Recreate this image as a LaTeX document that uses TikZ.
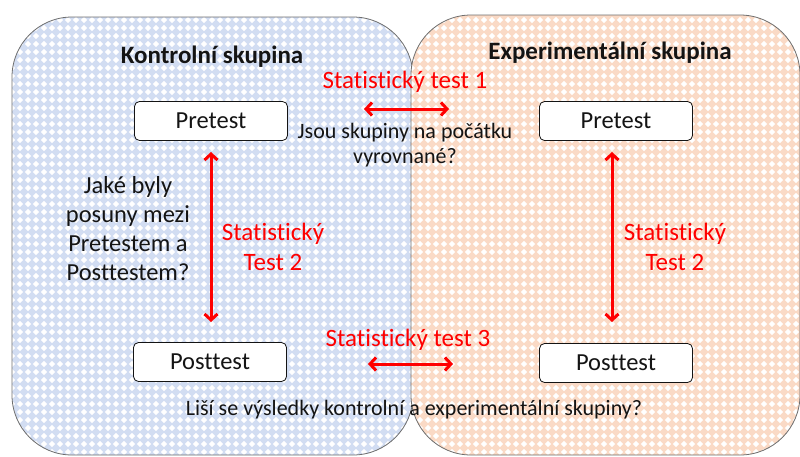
\documentclass[tikz,border=0pt]{standalone}
\usepackage{fontspec}
\setmainfont{Carlito}[Ligatures=NoCommon]
\usetikzlibrary{patterns,arrows.meta}
\definecolor{blueF}{RGB}{210,221,242}
\definecolor{orangeF}{RGB}{250,218,198}
\definecolor{bordergray}{RGB}{110,110,110}
\definecolor{txt}{RGB}{20,20,20}
\pgfdeclarepatternformonly{wdiam}{\pgfpoint{-1pt}{-1pt}}{\pgfpoint{9pt}{9pt}}{\pgfpoint{8pt}{8pt}}{%
  \pgfpathmoveto{\pgfpoint{4pt}{0.8pt}}%
  \pgflineto{\pgfpoint{7.2pt}{4pt}}%
  \pgflineto{\pgfpoint{4pt}{7.2pt}}%
  \pgflineto{\pgfpoint{0.8pt}{4pt}}%
  \pgfpathclose\pgfusepath{fill}}
\tikzset{
  grpfill/.style={rounded corners=60pt},
  grpline/.style={draw=bordergray, line width=0.8pt, rounded corners=60pt},
  stagebox/.style={draw=txt, fill=white, rounded corners=5pt, line width=0.8pt,
    minimum width=153pt, minimum height=39pt, inner sep=0pt, text=txt,
    font=\fontsize{24.5}{28}\selectfont},
  title/.style={font=\fontsize{25}{29}\selectfont\bfseries, text=txt},
  redlbl/.style={font=\fontsize{25}{29}\selectfont, text=red, align=center},
  qlbl/.style={font=\fontsize{22}{26}\selectfont, text=txt, align=center},
  redarrow/.style={draw=red, line width=3pt, {Straight Barb[length=6pt,width=13pt]}-{Straight Barb[length=6pt,width=13pt]}}
}
\begin{document}
\begin{tikzpicture}[x=1pt,y=-1pt]
\useasboundingbox (0,0) rectangle (800,456);
% left group
\fill[grpfill, blueF] (12,17) rectangle (413,455);
\fill[grpfill, pattern=wdiam, pattern color=white] (12,17) rectangle (413,455);
\draw[grpline] (12,17) rectangle (413,455);
% right group
\fill[grpfill, orangeF] (411,15) rectangle (800,455);
\fill[grpfill, pattern=wdiam, pattern color=white] (411,15) rectangle (800,455);
\draw[grpline] (411,15) rectangle (800,455);

\node[title] (tl) at (212,57) {Kontrolní skupina};
\node[title] (tr) at (610,53) {Experimentální skupina};

\node[stagebox] (prel) at (211,121) {Pretest};
\node[stagebox] (prer) at (616,121) {Pretest};
\node[stagebox] (postl) at (210,362) {Posttest};
\node[stagebox] (postr) at (616,363) {Posttest};

\node[redlbl] (t1) at (405,82) {Statistický test 1};
\node[redlbl] (t3) at (408,340) {Statistický test 3};
\node[redlbl, font=\fontsize{25}{30}\selectfont] (t2l) at (273,247) {Statistický\\Test 2};
\node[redlbl, font=\fontsize{25}{30}\selectfont] (t2r) at (675,247) {Statistický\\Test 2};

\node[qlbl, font=\fontsize{22}{25}\selectfont] (q1) at (405,145) {Jsou skupiny na počátku\\vyrovnané?};
\node[qlbl, font=\fontsize{24.5}{29}\selectfont] (q2) at (128,229) {Jaké byly\\posuny mezi\\Pretestem a\\Posttestem?};
\node[qlbl] (q3) at (414,410) {Liší se výsledky kontrolní a experimentální skupiny?};

\coordinate (h1a) at (364,109);
\coordinate (h1b) at (449,109);
\coordinate (h3a) at (368,364);
\coordinate (h3b) at (453,364);
\coordinate (v1a) at (211,152);
\coordinate (v1b) at (211,322);
\coordinate (v2a) at (612,152);
\coordinate (v2b) at (612,322);
\draw[redarrow] (h1a) -- (h1b);
\draw[redarrow] (h3a) -- (h3b);
\draw[redarrow] (v1a) -- (v1b);
\draw[redarrow] (v2a) -- (v2b);
\end{tikzpicture}
\end{document}
